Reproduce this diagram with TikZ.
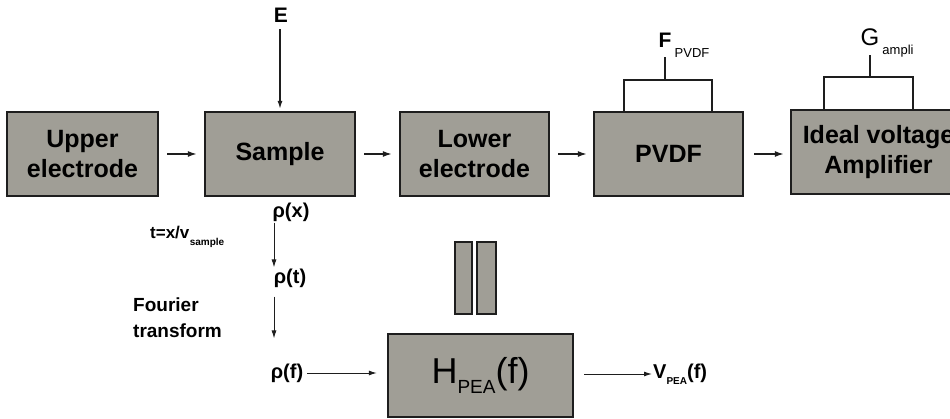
\documentclass[tikz,border=0pt]{standalone}
\usepackage{fontspec}
\setmainfont{Liberation Sans}
\usetikzlibrary{arrows.meta}
\definecolor{boxgray}{RGB}{160,158,150}
\definecolor{edge}{RGB}{30,30,30}
\begin{document}
\begin{tikzpicture}[x=1pt,y=-1pt,
  blk/.style={draw=edge, line width=2.3pt, fill=boxgray, inner sep=0pt, align=center,
              font=\fontsize{25}{30}\selectfont\bfseries},
  bar/.style={draw=edge, line width=1.8pt, fill=boxgray, inner sep=0pt},
  bigarr/.style={-{Latex[length=9pt,width=6pt]}, line width=1.5pt, draw=edge},
  arr/.style={-{Latex[length=8pt,width=5pt]}, line width=1pt, draw=edge},
  brk/.style={line width=2pt, draw=edge},
  lab/.style={font=\fontsize{20}{24}\selectfont\bfseries, inner sep=1pt},
  sub/.style={font=\fontsize{11}{11}\selectfont, inner sep=0pt}]
\useasboundingbox (0,0) rectangle (950,419);

% top row
\node[blk, minimum width=151pt, minimum height=84pt] (up)   at (82.5,154) {Upper\\electrode};
\node[blk, minimum width=150pt, minimum height=84pt] (samp) at (280,154) {Sample};
\node[blk, minimum width=149pt, minimum height=84pt] (low)  at (474.5,154) {Lower\\electrode};
\node[blk, minimum width=149pt, minimum height=84pt] (pvdf) at (668.5,154) {PVDF};
\node[blk, minimum width=175pt, minimum height=84pt] (amp)  at (878.5,152) {Ideal voltage\\Amplifier};

\draw[bigarr, shorten <=8pt, shorten >=7pt] (up.east) -- (samp.west);
\draw[bigarr, shorten <=8pt, shorten >=7pt] (samp.east) -- (low.west);
\draw[bigarr, shorten <=8pt, shorten >=6pt] (low.east) -- (pvdf.west);
\draw[bigarr, shorten <=10pt, shorten >=6pt] (pvdf.east) -- (pvdf.east -| amp.west);

% E
\node[font=\fontsize{21}{21}\selectfont\bfseries, inner sep=0pt] (E) at (281,15) {E};
\draw[arr, line width=1.3pt, shorten <=7pt, shorten >=2pt] ([xshift=-1pt]E.south) -- ([xshift=-1pt]E.south |- samp.north);

% F bracket
\node[font=\fontsize{21}{21}\selectfont\bfseries, inner sep=0pt] (F) at (665,40) {F};
\node[sub, font=\fontsize{13}{13}\selectfont] (Fs) at (692,53) {PVDF};
\coordinate (fl) at (624,112);
\coordinate (fr) at (712,112);
\draw[brk] (fl) |- (fr |- 0,80) -- (fr);
\draw[brk] (665,80) -- (665,57);

% G bracket
\node[font=\fontsize{24}{24}\selectfont, inner sep=0pt] (G) at (870,37) {G};
\node[sub, font=\fontsize{13}{13}\selectfont] (Gs) at (898,51) {ampli};
\coordinate (gl) at (824,110);
\coordinate (gr) at (913,110);
\draw[brk] (gl) |- (gr |- 0,77) -- (gr);
\draw[brk] (870,77) -- (870,55);

% rho chain
\node[lab] (rx) at (291,212) {ρ(x)};
\node[lab] (rt) at (290,278) {ρ(t)};
\node[lab] (rf) at (287,373) {ρ(f)};
\draw[arr] ([xshift=-17pt]rx.south) -- ([xshift=-16pt]rt.north);
\draw[arr, shorten <=8pt, shorten >=24pt] ([xshift=-16pt]rt.south) -- ([xshift=-13pt]rf.north);

\node[font=\fontsize{17}{17}\selectfont\bfseries, inner sep=0pt, anchor=west] (tx) at (150,233) {t=x/v};
\node[sub, font=\fontsize{10}{10}\selectfont\bfseries, anchor=west] (txs) at (tx.east |- 0,243) {sample};
\node[font=\fontsize{19}{26}\selectfont\bfseries, align=left, anchor=west, inner sep=0pt] (ft) at (133,318) {Fourier\\transform};

% equality bars
\node[bar, minimum width=17pt, minimum height=72pt] (eq1) at (463.5,278) {};
\node[bar, minimum width=19pt, minimum height=72pt] (eq2) at (486.5,278) {};

% transfer function
\node[draw=edge, line width=2.3pt, fill=boxgray, minimum width=185pt, minimum height=83pt, inner sep=0pt]
  (H) at (480.5,375.5) {\fontsize{36}{36}\selectfont H\raisebox{-10pt}{\fontsize{19}{19}\selectfont PEA}(f)};
\draw[arr, shorten <=3pt, shorten >=10pt] (rf.east) -- (H.west |- rf.east);

\node[anchor=west, inner sep=1pt] (V) at (652,374)
  {\fontsize{20}{20}\selectfont\bfseries V\raisebox{-6pt}{\fontsize{10}{10}\selectfont PEA}(f)};
\draw[arr, shorten <=10pt] (H.east |- V.west) -- (V.west);
\end{tikzpicture}
\end{document}
